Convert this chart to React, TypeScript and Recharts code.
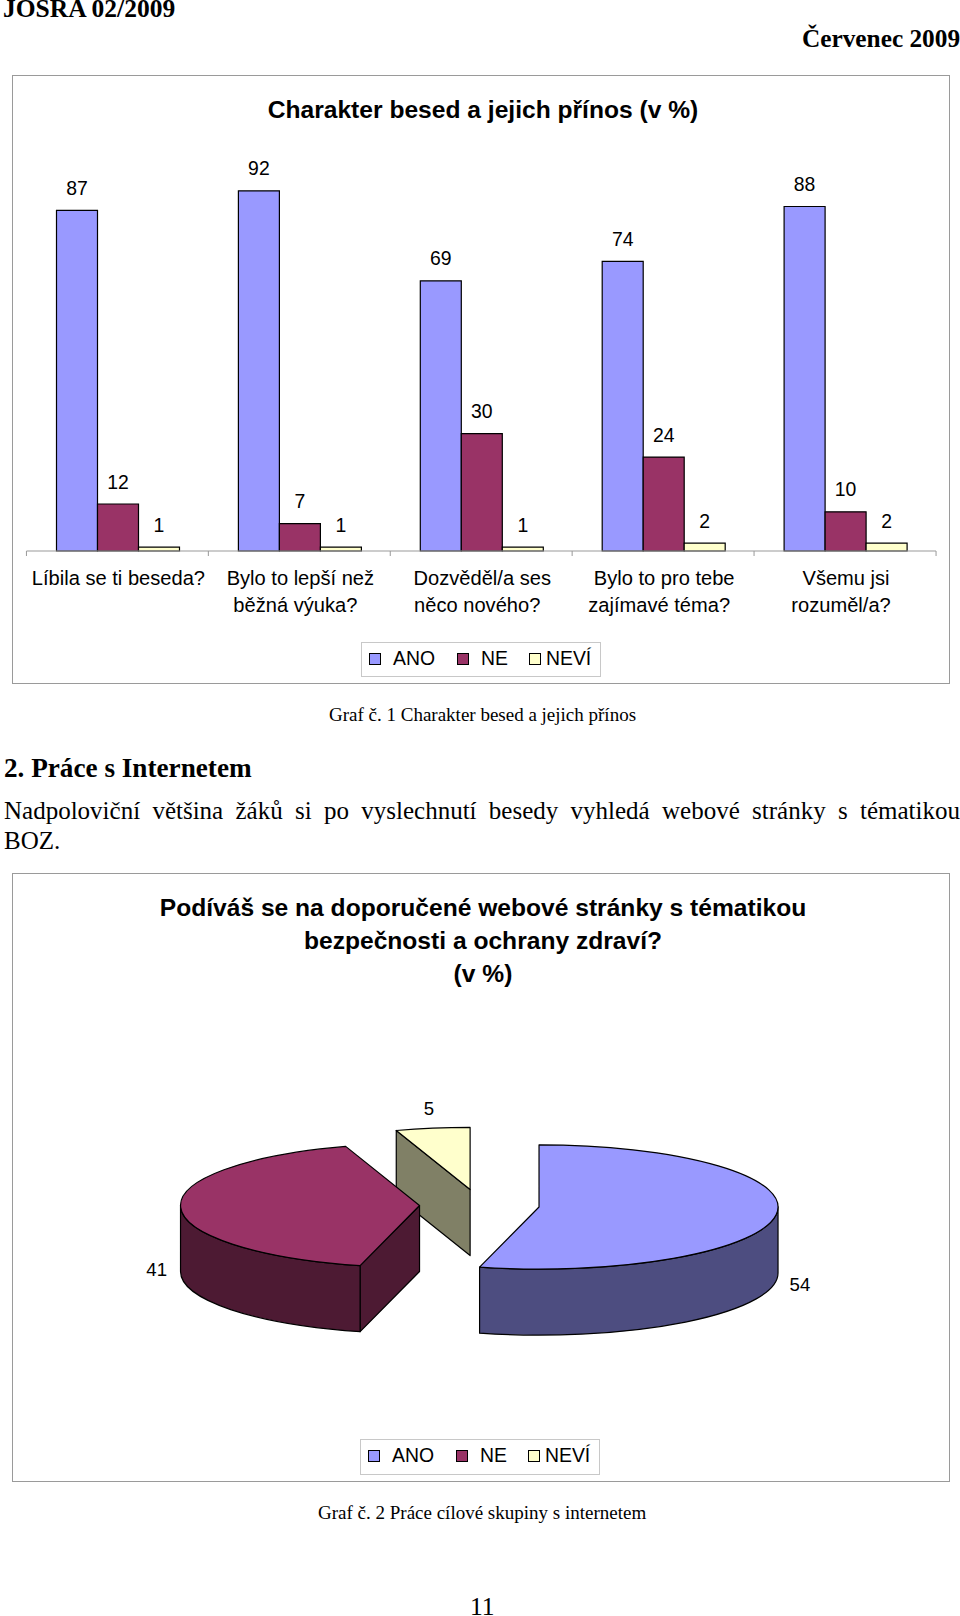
import React from "react";
import {
  BarChart,
  Bar,
  XAxis,
  YAxis,
  LabelList,
  Legend,
  PieChart,
  Pie,
} from "recharts";

const categories = [
  "Líbila se ti beseda?",
  "Bylo to lepší než\nběžná výuka?",
  "Dozvěděl/a ses\nněco nového?",
  "Bylo to pro tebe\nzajímavé téma?",
  "Všemu jsi\nrozuměl/a?",
];
const seriesNames = ["ANO", "NE", "NEVÍ"];
const ano = [87, 92, 69, 74, 88];
const ne = [12, 7, 30, 24, 10];
const nevi = [1, 1, 1, 2, 2];
const internetValues = [54, 41, 5];

const topColors = ["#9999FF", "#993366", "#FFFFCC"];
const wallColors = ["#4D4D80", "#4D1A33", "#808066"];

const barData = categories.map((name, i) => ({
  name,
  ANO: ano[i],
  NE: ne[i],
  NEVÍ: nevi[i],
}));

// drawn back to front: yellow first, blue last, going counter-clockwise from 12 o'clock
const pieData = [2, 1, 0].map((i) => ({
  name: seriesNames[i],
  value: internetValues[i],
  fill: topColors[i],
  wall: wallColors[i],
}));

const sans = "'Liberation Sans', Arial, sans-serif";
const serif = "'Liberation Serif', 'Times New Roman', serif";
const axisGray = "#999999";

const squash = 0.26;
const depth = 66;
const explode = 60;

function CategoryTick({ x, y, payload, index }: any) {
  const lines = String(payload.value).split("\n");
  const half = 91;
  return (
    <g>
      <line x1={x - half} x2={x - half} y1={y} y2={y + 5} stroke={axisGray} />
      {index === categories.length - 1 && (
        <line x1={x + half} x2={x + half} y1={y} y2={y + 5} stroke={axisGray} />
      )}
      {lines.map((line, i) => (
        <text
          key={line}
          x={i === 0 ? x + 1 : x - 4}
          y={y + 27 + i * 26.5}
          textAnchor="middle"
          dominantBaseline="central"
          fontFamily={sans}
          fontSize={20.1}
          fill="#000"
        >
          {line}
        </text>
      ))}
    </g>
  );
}

function LegendBox({ height = 35 }: { height?: number }) {
  const offsets = [
    { box: 7, text: 31 },
    { box: 95, text: 119 },
    { box: 167, text: 184 },
  ];
  return (
    <div
      style={{
        position: "relative",
        width: 240,
        height,
        border: "1px solid #c8c8c8",
        boxSizing: "border-box",
        background: "#fff",
        fontFamily: sans,
        fontSize: 19.4,
      }}
    >
      {seriesNames.map((name, i) => (
        <React.Fragment key={name}>
          <span
            style={{
              position: "absolute",
              left: offsets[i].box,
              top: 10,
              width: 12,
              height: 12,
              boxSizing: "border-box",
              background: topColors[i],
              border: "1px solid #000",
            }}
          />
          <span
            style={{
              position: "absolute",
              left: offsets[i].text,
              top: 4,
              lineHeight: "22px",
              color: "#000",
            }}
          >
            {name}
          </span>
        </React.Fragment>
      ))}
    </div>
  );
}

// recharts hands over the slice angles, this turns them into an exploded 3D wedge
function Wedge3D(props: any) {
  const { cx, cy, outerRadius, startAngle, endAngle, midAngle, fill, wall } = props;
  const rx = outerRadius;
  const ry = rx * squash;
  const t0 = 450 - endAngle >= 360 ? 90 - endAngle + 360 : 450 - endAngle;
  const t1 = t0 + (endAngle - startAngle);
  const rad = (d: number) => (d * Math.PI) / 180;
  const mid = rad(90 - midAngle);
  const ax = cx + explode * Math.sin(mid);
  const ay = cy - explode * squash * Math.cos(mid);
  const rim = (d: number, down = 0) => [
    ax + rx * Math.sin(rad(d)),
    ay - ry * Math.cos(rad(d)) + down,
  ];
  const [x0, y0] = rim(t0);
  const [x1, y1] = rim(t1);
  const big = t1 - t0 > 180 ? 1 : 0;
  const wallLine = { stroke: "#000", strokeWidth: 1.2, strokeLinejoin: "round" as const };

  const faces: string[] = [];
  if (Math.sin(rad(t0)) < -1e-6) {
    faces.push(`M${ax},${ay}L${x0},${y0}L${x0},${y0 + depth}L${ax},${ay + depth}Z`);
  }
  if (Math.sin(rad(t1)) > 1e-6) {
    faces.push(`M${ax},${ay}L${x1},${y1}L${x1},${y1 + depth}L${ax},${ay + depth}Z`);
  }
  const a = Math.max(t0, 90);
  const b = Math.min(t1, 270);
  if (b > a) {
    const [ox0, oy0] = rim(a);
    const [ox1, oy1] = rim(b);
    faces.push(
      `M${ox0},${oy0}A${rx},${ry} 0 0 1 ${ox1},${oy1}L${ox1},${oy1 + depth}` +
        `A${rx},${ry} 0 0 0 ${ox0},${oy0 + depth}Z`
    );
  }
  return (
    <g>
      {faces.map((d) => (
        <path key={d} d={d} fill={wall} {...wallLine} />
      ))}
      <path
        d={`M${ax},${ay}L${x0},${y0}A${rx},${ry} 0 ${big} 1 ${x1},${y1}Z`}
        fill={fill}
        {...wallLine}
      />
    </g>
  );
}

function pieLabel({ cx, cy, midAngle, value }: any) {
  const t = ((90 - midAngle) * Math.PI) / 180;
  return (
    <text
      x={cx + 323 * Math.sin(t)}
      y={cy + 60 - 158 * Math.cos(t)}
      textAnchor="middle"
      dominantBaseline="central"
      fontFamily={sans}
      fontSize={18.6}
      fill="#000"
    >
      {value}
    </text>
  );
}

function PageText({ style, children }: any) {
  return (
    <div style={{ position: "absolute", whiteSpace: "pre", color: "#000", ...style }}>
      {children}
    </div>
  );
}

function Frame({ top, height }: { top: number; height: number }) {
  return (
    <div
      style={{
        position: "absolute",
        left: 12,
        top,
        width: 938,
        height,
        boxSizing: "border-box",
        border: "1px solid #9a9a9a",
      }}
    />
  );
}

const centered = (top: number) => ({
  left: 0,
  width: 966,
  top,
  textAlign: "center" as const,
  fontFamily: sans,
  fontWeight: 700,
  fontSize: 24.6,
  lineHeight: "33px",
});

export default function App() {
  return (
    <div
      style={{
        position: "absolute",
        left: 0,
        top: 0,
        width: 960,
        height: 1616,
        overflow: "hidden",
        background: "#fff",
      }}
    >
      <PageText
        style={{ left: 3, top: -1, fontFamily: serif, fontWeight: 700, fontSize: 25.5, lineHeight: "19px" }}
      >
        JOSRA 02/2009
      </PageText>
      <PageText
        style={{ left: 802, top: 23, fontFamily: serif, fontWeight: 700, fontSize: 25.3, lineHeight: "30px" }}
      >
        Červenec 2009
      </PageText>

      <Frame top={75} height={609} />
      <PageText style={centered(92.5)}>Charakter besed a jejich přínos (v %)</PageText>

      <div style={{ position: "absolute", left: 0, top: 0 }}>
        <BarChart
          width={960}
          height={700}
          data={barData}
          margin={{ top: 159.5, right: 24, bottom: 0, left: 26.5 }}
          barCategoryGap={30}
          barGap={0}
        >
          <XAxis
            dataKey="name"
            height={149}
            interval={0}
            tickSize={0}
            tickMargin={0}
            tickLine={false}
            stroke={axisGray}
            tick={<CategoryTick />}
          />
          <YAxis hide domain={[0, 100]} />
          {seriesNames.map((name, i) => (
            <Bar
              key={name}
              dataKey={name}
              fill={topColors[i]}
              stroke="#000"
              strokeWidth={1.2}
              isAnimationActive={false}
            >
              <LabelList
                dataKey={name}
                position="top"
                offset={15.5}
                fontFamily={sans}
                fontSize={19.4}
                fill="#000"
              />
            </Bar>
          ))}
          <Legend
            layout="horizontal"
            verticalAlign="middle"
            align="center"
            content={<LegendBox />}
            wrapperStyle={{ left: 361, top: 642, width: 240 }}
          />
        </BarChart>
      </div>

      <PageText style={{ left: 329, top: 703, fontFamily: serif, fontSize: 19, lineHeight: "24px" }}>
        Graf č. 1 Charakter besed a jejich přínos
      </PageText>
      <PageText
        style={{ left: 4, top: 752, fontFamily: serif, fontWeight: 700, fontSize: 27.2, lineHeight: "32px" }}
      >
        2. Práce s Internetem
      </PageText>
      <div
        style={{
          position: "absolute",
          left: 4,
          top: 796,
          width: 956,
          fontFamily: serif,
          fontSize: 25,
          lineHeight: "30px",
          color: "#000",
        }}
      >
        <div style={{ textAlign: "justify", textAlignLast: "justify" }}>
          Nadpoloviční většina žáků si po vyslechnutí besedy vyhledá webové stránky s tématikou
        </div>
        <div>BOZ.</div>
      </div>

      <Frame top={873} height={609} />
      <PageText style={centered(890.5)}>
        {"Podíváš se na doporučené webové stránky s tématikou\nbezpečnosti a ochrany zdraví?\n(v %)"}
      </PageText>

      <div style={{ position: "absolute", left: 0, top: 860 }}>
        <PieChart width={960} height={640} margin={{ top: 0, right: 0, bottom: 0, left: 0 }}>
          <Pie
            data={pieData}
            dataKey="value"
            nameKey="name"
            cx={479.5}
            cy={345}
            outerRadius={239}
            startAngle={90}
            endAngle={450}
            stroke="none"
            shape={Wedge3D}
            label={pieLabel}
            labelLine={false}
            isAnimationActive={false}
          />
          <Legend
            layout="horizontal"
            verticalAlign="middle"
            align="center"
            content={<LegendBox height={36} />}
            wrapperStyle={{ left: 360, top: 579, width: 240 }}
          />
        </PieChart>
      </div>

      <PageText style={{ left: 318, top: 1501, fontFamily: serif, fontSize: 19, lineHeight: "24px" }}>
        Graf č. 2 Práce cílové skupiny s internetem
      </PageText>
      <PageText style={{ left: 470, top: 1598, fontFamily: serif, fontSize: 25.5, lineHeight: "18px" }}>
        11
      </PageText>
    </div>
  );
}
